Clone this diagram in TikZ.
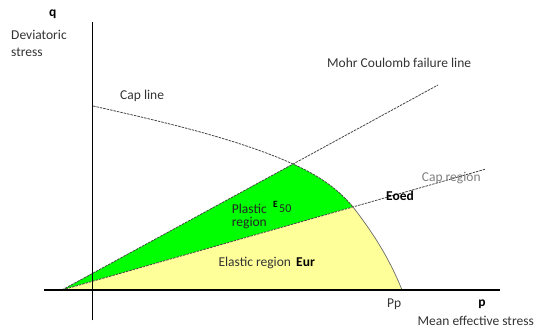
\documentclass[tikz,border=0pt]{standalone}
\usepackage{fontspec}
\setmainfont{Carlito}
\definecolor{plasticgreen}{RGB}{0,255,0}
\definecolor{elasticyellow}{RGB}{255,255,153}
\definecolor{labelgray}{RGB}{51,51,51}
\definecolor{linegray}{RGB}{70,70,70}
\begin{document}
\begin{tikzpicture}[x=1pt,y=1pt,
  axisline/.style={line width=1.4pt,black},
  dashline/.style={line width=0.8pt,linegray,dash pattern=on 2.5pt off 1pt},
  capedge/.style={line width=0.7pt,linegray!80},
  lbl/.style={font=\fontsize{13.5}{15}\selectfont,text=labelgray,inner sep=0pt},
  blbl/.style={font=\fontsize{13.5}{15}\selectfont\bfseries,text=black,inner sep=0pt}]
\useasboundingbox (0,0) rectangle (536,329);
% key points
\coordinate (A) at (62,39);
\coordinate (MCend) at (438,244);
\coordinate (EOend) at (485,159.7);
\coordinate (C0) at (93,223);
\coordinate (I1) at (293,165);
\coordinate (I2) at (353,122);
\coordinate (P) at (402,39);
\coordinate (XL) at (44,39);
\coordinate (XR) at (500,39);
\coordinate (YT) at (92.5,306.5);
\coordinate (YB) at (92.5,8.5);
% regions
\fill[plasticgreen] (A) -- (I1) .. controls (313,156) and (335,143.6) .. (I2) -- cycle;
\fill[elasticyellow] (A) -- (I2) .. controls (370,100) and (388,74) .. (P) -- cycle;
% lines
\draw[dashline] (A) -- (MCend);
\draw[dashline] (A) -- (EOend);
\draw[dashline] (C0) .. controls (160,208) and (238,190) .. (I1)
                     .. controls (313,156) and (335,143.6) .. (I2);
\draw[capedge] (I2) .. controls (370,100) and (388,74) .. (P);
% axes
\draw[axisline] (XL) -- (XR);
\draw[axisline] (YB) -- (YT);
% labels
\node[blbl] (q) at (52.7,315) {q};
\node[lbl,anchor=west] (dev1) at (11,294) {Deviatoric};
\node[lbl,anchor=west] (dev2) at (11,277) {stress};
\node[lbl,anchor=west] (capline) at (120,233.3) {Cap line};
\node[lbl,anchor=west] (mc) at (327,266) {Mohr Coulomb failure line};
\node[lbl,anchor=west,text=gray] (capreg) at (421.7,151.3) {Cap region};
\node[blbl] (eoed) at (400,133.5) {Eoed};
\node[lbl,anchor=west,text=black!85] (pl1) at (231.7,119.7) {Plastic};
\node[lbl,anchor=west,text=black!85] (pl2) at (231.7,105.7) {region};
\node[inner sep=0pt,font=\fontsize{9.5}{11}\selectfont\bfseries] (e) at (275.5,125) {E};
\node[anchor=west,inner sep=0pt,font=\fontsize{12}{14}\selectfont,text=black!85] (e50) at (279,120) {50};
\node[lbl,anchor=west] (el) at (218.3,66.3) {Elastic region};
\node[blbl,anchor=west] (eur) at (296,67.3) {Eur};
\node[lbl,anchor=west] (pp) at (387,25) {Pp};
\node[blbl] (p) at (482,25) {p};
\node[lbl,anchor=east] (mes) at (534,8.5) {Mean effective stress};
\end{tikzpicture}
\end{document}
